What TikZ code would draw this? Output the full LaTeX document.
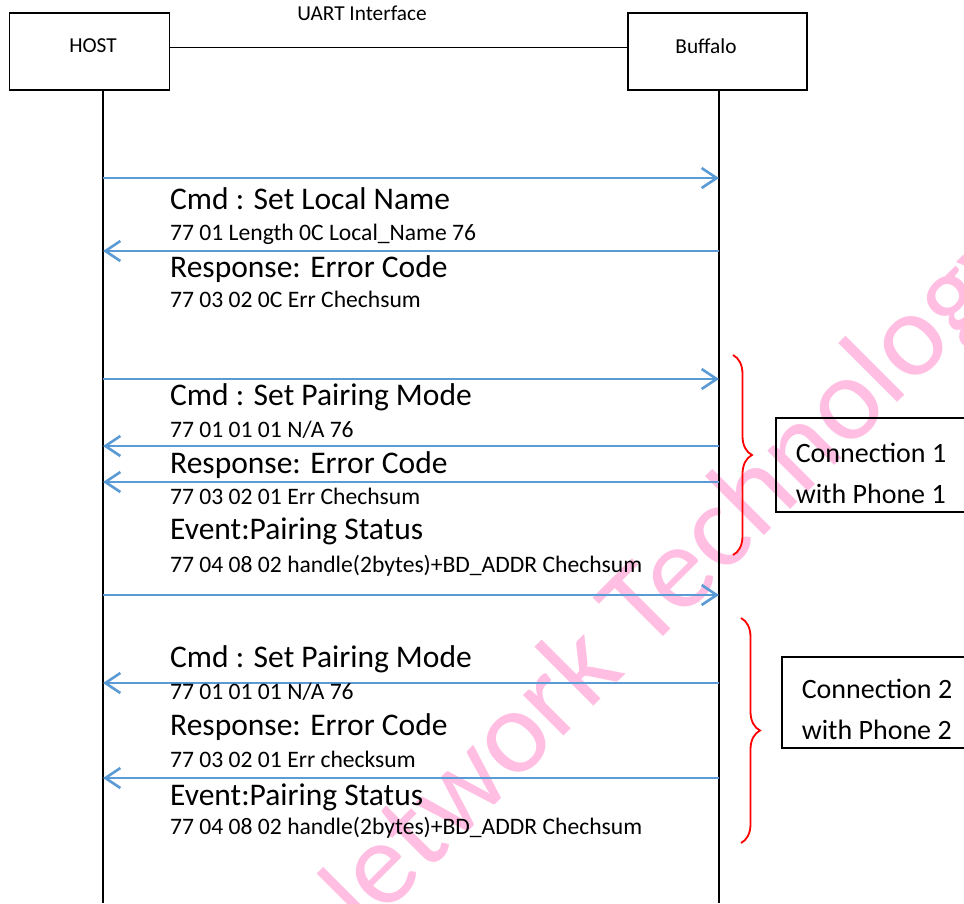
\documentclass[tikz,border=0pt]{standalone}
\usepackage{fontspec}
\setmainfont{Carlito}
\usetikzlibrary{arrows.meta,decorations.pathreplacing}
\definecolor{msgblue}{RGB}{91,155,213}
\definecolor{wmpink}{RGB}{255,190,226}
\begin{document}
\begin{tikzpicture}[x=1pt,y=-1pt]
	\tikzstyle{every node}+=[inner sep=0pt]
	\tikzstyle{unit}=[draw=black,line width=1.6pt,minimum width=160pt,minimum height=77pt]
	\tikzstyle{unitlabel}=[font=\fontsize{21.3}{25}\selectfont]
	\tikzstyle{life}=[black,line width=1.3pt]
	\tikzstyle{msg}=[msgblue,line width=2.6pt,-{Straight Barb[length=15pt,width=20pt]}]
	\tikzstyle{head}=[anchor=base west,font=\fontsize{31.5}{36}\selectfont]
	\tikzstyle{code}=[anchor=base west,font=\fontsize{23.6}{28}\selectfont]
	\tikzstyle{group}=[red,line width=1.8pt,decorate,decoration={brace,amplitude=19pt}]
	\tikzstyle{connbox}=[draw=black,line width=1.4pt]
	\tikzstyle{connlabel}=[align=left,font=\fontsize{28}{41}\selectfont]
	\useasboundingbox (0,0) rectangle (964,903);
	\node [rotate=45,anchor=base west,text=wmpink,font=\fontsize{120}{120}\selectfont] (mark) at (329,971) {Network Technology};
	\node [unit] (host) at (89.5,51.5) {};
	\node [unit,minimum width=179pt] (buffalo) at (717.5,51.5) {};
	\node [unitlabel] (hostlabel) at (93,46) {HOST};
	\node [unitlabel] (buffalolabel) at (706,46) {Buffalo};
	\draw [black,line width=1.6pt] ([yshift=4pt]host.east) -- ([yshift=4pt]buffalo.west);
	\node [unitlabel,anchor=base] (uart) at (362,20) {UART Interface};
	\foreach \n/\y in {1/178,2/251,3/379,4/446,5/482,6/595,7/683,8/778} {
		\coordinate (h\n) at (103,\y);
		\coordinate (b\n) at (719,\y);
	}
	\coordinate (hbot) at (103,903);
	\coordinate (bbot) at (719,903);
	\draw [life] (h1 |- host.south) -- (hbot);
	\draw [life] (b1 |- buffalo.south) -- (bbot);
	\foreach \n in {1,3,6} \draw [msg] (h\n) -- (b\n);
	\foreach \n in {2,4,5,7,8} \draw [msg] (b\n) -- (h\n);
	\node [head] (cmd1) at (170,209) {Cmd : Set Local Name};
	\node [code] (cmd1code) at (170,240) {77 01 Length 0C Local\_Name 76};
	\node [head] (rsp1) at (170,277) {Response: Error Code};
	\node [code] (rsp1code) at (170,307) {77 03 02 0C Err Chechsum};
	\node [head] (cmd2) at (170,405) {Cmd : Set Pairing Mode};
	\node [code] (cmd2code) at (170,437) {77 01 01 01 N/A 76};
	\node [head] (rsp2) at (170,473) {Response: Error Code};
	\node [code] (rsp2code) at (170,504) {77 03 02 01 Err Chechsum};
	\node [head] (evt2) at (170,539) {Event:Pairing Status};
	\node [code] (evt2code) at (170,572) {77 04 08 02 handle(2bytes)+BD\_ADDR Chechsum};
	\node [head] (cmd3) at (170,667) {Cmd : Set Pairing Mode};
	\node [code] (cmd3code) at (170,699) {77 01 01 01 N/A 76};
	\node [head] (rsp3) at (170,735) {Response: Error Code};
	\node [code] (rsp3code) at (170,767) {77 03 02 01 Err checksum};
	\node [head] (evt3) at (170,805) {Event:Pairing Status};
	\node [code] (evt3code) at (170,834) {77 04 08 02 handle(2bytes)+BD\_ADDR Chechsum};
	\coordinate (g1top) at (733,355);
	\coordinate (g1bot) at (733,555);
	\coordinate (g2top) at (741,618);
	\coordinate (g2bot) at (741,843);
	\draw [group] (g1top) -- (g1bot);
	\draw [group] (g2top) -- (g2bot);
	\node [connbox,minimum width=189pt,minimum height=94pt] (box1) at (870.5,465) {};
	\node [connlabel] (conn1) at (871,473) {Connection 1\\with Phone 1};
	\node [connbox,minimum width=183pt,minimum height=91pt] (box2) at (873.5,702.5) {};
	\node [connlabel] (conn2) at (877,709.5) {Connection 2\\with Phone 2};
\end{tikzpicture}
\end{document}
